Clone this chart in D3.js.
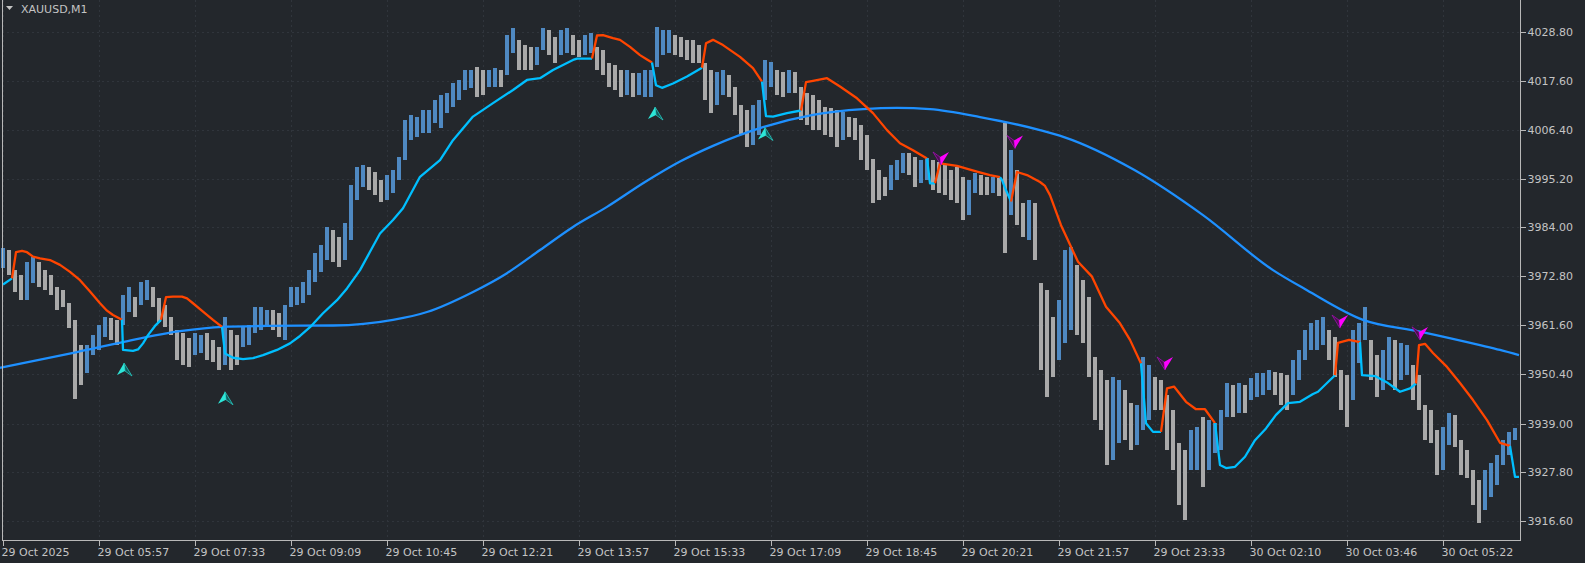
<!DOCTYPE html>
<html><head><meta charset="utf-8">
<script src="https://cdn.jsdelivr.net/npm/d3@7"></script>
<style>
html,body{margin:0;padding:0;background:#23272c;overflow:hidden}
svg{display:block}
text{font-family:"DejaVu Sans",sans-serif;font-size:11px;fill:#c4c4c4}
</style></head><body>
<svg id="c" width="1585" height="563"></svg>
<script>
// ---- DATA ----
const symbol = "XAUUSD,M1";
const colStep = 6; // minutes per aggregated column
const barHigh = [3979.3,3978.8,3974.2,3973.1,3976.1,3977.2,3976.1,3974.2,3973.1,3970.3,3969.6,3966.7,3962.8,3957.0,3957.0,3959.3,3961.6,3963.5,3963.2,3962.8,
3968.5,3970.3,3968.0,3971.5,3971.9,3970.3,3967.8,3966.2,3963.5,3960.5,3959.8,3958.6,3959.8,3959.3,3959.8,3958.2,3956.6,3963.5,3960.5,3959.3,
3961.1,3961.6,3965.7,3965.7,3965.1,3965.1,3964.4,3966.2,3970.3,3970.3,3971.5,3974.2,3978.1,3980.0,3984.1,3983.4,3981.8,3985.0,3993.7,3997.8,
3998.3,3997.8,3996.7,3994.9,3996.0,3997.2,4000.1,4008.6,4009.8,4009.3,4010.9,4010.9,4013.2,4014.4,4014.8,4017.1,4017.8,4020.1,4020.1,4020.8,
4020.1,4020.1,4020.5,4020.1,4028.1,4029.7,4027.0,4025.8,4025.4,4025.4,4029.7,4029.3,4027.7,4029.3,4029.7,4028.1,4027.0,4028.1,4028.6,4025.4,
4024.7,4021.7,4021.2,4020.1,4020.1,4019.4,4019.4,4020.1,4020.1,4029.9,4029.3,4029.3,4028.1,4027.7,4027.0,4027.0,4025.8,4021.7,4020.1,4019.6,
4020.1,4018.9,4016.2,4012.1,4010.9,4012.1,4013.2,4022.4,4021.9,4020.1,4019.6,4020.1,4019.6,4016.2,4014.8,4014.4,4013.2,4011.6,4011.4,4010.9,
4010.5,4009.3,4009.1,4007.5,4005.2,3999.7,3997.2,3995.6,3998.3,3999.5,4001.1,4001.1,4000.1,3999.5,3999.9,3999.5,3999.0,3998.3,3997.2,3997.8,
3995.6,3994.9,3996.5,3996.0,3995.6,3995.6,3995.3,4007.9,4001.8,3997.2,3989.6,3990.3,3989.6,3971.3,3969.6,3963.5,3967.4,3978.8,3979.5,3975.4,
3971.9,3968.0,3954.3,3951.3,3949.0,3949.7,3949.0,3946.7,3943.7,3943.3,3954.3,3952.4,3949.7,3949.0,3945.6,3942.1,3934.6,3932.9,3937.5,3938.2,
3940.5,3939.8,3939.1,3942.1,3948.3,3947.9,3948.3,3947.9,3949.5,3950.6,3950.6,3951.3,3950.8,3950.6,3950.1,3953.6,3955.9,3960.5,3962.1,3962.8,
3963.5,3960.5,3958.9,3951.3,3950.1,3960.5,3962.1,3965.7,3958.2,3954.7,3955.9,3958.9,3958.2,3957.5,3957.0,3952.4,3950.1,3943.3,3942.1,3937.5,
3938.2,3941.4,3941.0,3935.2,3932.9,3928.4,3926.1,3928.4,3930.0,3931.8,3935.2,3937.1,3938.0];
const barLow = [3974.7,3973.1,3969.2,3967.4,3967.4,3971.3,3970.3,3969.6,3968.5,3965.1,3965.7,3960.9,3944.6,3947.9,3950.6,3954.7,3955.9,3958.9,3958.2,3957.0,
3961.6,3964.6,3963.5,3966.2,3967.4,3965.7,3962.3,3961.1,3959.3,3953.6,3952.4,3952.0,3954.7,3955.2,3953.6,3953.1,3951.3,3952.4,3951.3,3952.4,
3956.6,3957.0,3959.8,3960.5,3961.1,3960.5,3958.9,3958.2,3965.7,3966.2,3966.7,3968.5,3971.5,3973.8,3976.5,3976.1,3974.9,3976.5,3981.1,3990.3,
3993.3,3992.6,3991.4,3989.8,3990.3,3991.9,3994.9,3999.5,4004.0,4004.7,4005.6,4005.6,4007.9,4006.8,4010.2,4011.6,4013.2,4015.5,4016.0,4013.9,
4014.4,4016.2,4016.2,4016.2,4018.9,4024.0,4020.1,4020.1,4020.1,4021.2,4024.7,4023.5,4021.7,4023.5,4024.0,4023.5,4023.1,4023.5,4024.0,4020.1,
4018.9,4016.2,4015.5,4013.9,4014.4,4013.9,4014.4,4013.9,4013.9,4020.8,4023.5,4024.0,4023.5,4023.1,4022.4,4021.7,4021.7,4013.2,4010.2,4012.1,
4014.4,4013.9,4009.8,4005.2,4002.4,4002.9,4005.2,4013.2,4016.2,4014.4,4013.9,4014.8,4014.8,4008.6,4007.5,4006.3,4006.3,4005.2,4004.7,4002.4,
4004.0,4004.7,4004.0,3999.5,3997.2,3989.6,3990.3,3991.1,3992.6,3994.9,3996.5,3996.0,3993.3,3994.2,3994.9,3992.6,3991.9,3991.4,3990.3,3989.6,
3985.7,3986.8,3991.9,3991.4,3991.4,3991.9,3991.1,3978.1,3986.8,3984.5,3981.8,3981.1,3976.5,3951.3,3945.1,3949.7,3953.6,3957.4,3960.5,3959.3,
3957.4,3949.7,3939.8,3937.5,3929.5,3930.6,3934.6,3935.2,3932.9,3934.1,3937.5,3939.8,3942.1,3942.1,3932.9,3928.4,3920.3,3916.9,3928.4,3928.4,
3924.5,3928.4,3932.2,3932.9,3940.5,3940.5,3941.4,3941.4,3944.4,3945.1,3945.6,3946.7,3945.6,3943.3,3942.1,3945.6,3949.0,3953.6,3955.9,3955.9,
3957.0,3953.6,3949.7,3942.1,3938.2,3944.4,3952.9,3958.2,3949.0,3945.1,3946.7,3949.0,3946.7,3949.0,3950.1,3944.4,3942.1,3935.2,3934.6,3927.2,
3928.4,3934.1,3933.6,3927.2,3926.5,3920.3,3916.2,3919.2,3922.2,3924.9,3929.5,3931.8,3935.2];

// long moving average (minute index, price)
const maX = [0,77,123,180,223,267,333,393,427,473,507,540,573,607,645,680,713,763,813,863,897,930,980,1040,1064,1134,1203,1273,1307,1363,1420,1480,1500,1519];
const maP = [3951.8,3955.4,3957.7,3960.2,3961.2,3961.4,3961.5,3962.8,3964.6,3969.2,3973.5,3978.8,3984.1,3988.7,3994.4,3999.1,4002.7,4007.0,4009.8,4011.1,4011.4,4011.1,4009.3,4006.3,4004.7,3997.2,3986.8,3974.2,3969.6,3962.8,3960.1,3957.0,3955.9,3954.7];

// trailing stop line: minute index, price, direction (1 up / -1 down)
const trailX = [3,12, 16,22,27,33,40,50,60,70,80,90,100,107,113,122, 123,133,138,143,148,155,161, 166,173,182,187,193,203,213,222,
225,233,243,253,263,277,290,300,310,323,337,347,360,370,380,393,403,420,440,453,473,493,513,527,540,553,573,577,592,
597,603,613,620,630,640,647,652, 656,662,673,687,702, 706,713,723,740,753,762, 766,773,787,801,
806,813,827,840,857,873,887,900,913,927, 930,935, 940,957,977,990,1000, 1002,1006,1011,
1017,1027,1040,1045,1050,1061,1078,1092,1106,1120,1130,1141, 1146,1153,1161, 1167,1174,1186,1196,1205,1215,
1220,1226,1235,1245,1255,1266,1276,1288,1300,1313,1318,1335, 1338,1349,1360, 1362,1375,1388,1400,1410,1416,
1419,1425,1433,1447,1460,1473,1487,1500,1510, 1515,1519];
const trailP = [3970.9,3972.3, 3978.3,3978.6,3978.3,3977.3,3976.9,3976.5,3975.4,3973.8,3971.9,3969.3,3966.6,3964.9,3963.9,3962.8,
3955.9,3955.7,3956.0,3957.4,3959.3,3961.4,3962.8, 3968.0,3968.1,3968.1,3967.7,3966.6,3964.7,3962.8,3961.2,
3955.1,3954.1,3953.8,3954.0,3954.7,3955.9,3957.4,3959.1,3961.1,3964.3,3967.3,3970.0,3974.2,3978.4,3982.6,3985.7,3988.4,3995.6,3999.4,4004.0,4009.4,4012.5,4015.5,4017.8,4018.2,4020.1,4022.4,4022.7,4022.7,
4028.0,4028.1,4027.4,4027.0,4025.4,4023.5,4022.5,4021.8, 4016.6,4016.0,4017.0,4018.6,4020.6, 4026.2,4027.0,4025.8,4023.1,4020.5,4017.4,
4009.5,4009.4,4010.2,4010.8, 4017.3,4017.6,4018.2,4016.3,4013.6,4010.2,4006.3,4003.3,4001.7,3999.8, 3994.1,3994.1,
3998.7,3998.1,3996.8,3996.0,3995.5, 3994.9,3992.5,3989.9,
3996.7,3996.0,3994.4,3993.5,3991.4,3984.5,3976.1,3972.7,3965.8,3962.0,3958.2,3952.8, 3939.1,3937.1,3937.1,
3947.1,3947.5,3944.0,3942.3,3942.3,3939.1, 3929.5,3928.8,3929.1,3931.4,3935.2,3937.9,3941.0,3943.7,3944.0,3945.8,3946.3,3950.1,
3957.5,3958.2,3957.7, 3950.1,3949.9,3948.3,3946.3,3947.1,3948.2,
3957.0,3957.3,3955.2,3952.0,3948.3,3944.4,3939.8,3934.6,3933.9, 3926.8,3926.8];
const trailDir = [1,1, -1,-1,-1,-1,-1,-1,-1,-1,-1,-1,-1,-1,-1,-1, 1,1,1,1,1,1,1, -1,-1,-1,-1,-1,-1,-1,-1,
1,1,1,1,1,1,1,1,1,1,1,1,1,1,1,1,1,1,1,1,1,1,1,1,1,1,1,1,1,
-1,-1,-1,-1,-1,-1,-1,-1, 1,1,1,1,1, -1,-1,-1,-1,-1,-1, 1,1,1,1,
-1,-1,-1,-1,-1,-1,-1,-1,-1,-1, 1,1, -1,-1,-1,-1,-1, 1,1,1,
-1,-1,-1,-1,-1,-1,-1,-1,-1,-1,-1,-1, 1,1,1, -1,-1,-1,-1,-1,-1,
1,1,1,1,1,1,1,1,1,1,1,1, -1,-1,-1, 1,1,1,1,1,1,
-1,-1,-1,-1,-1,-1,-1,-1,-1, 1,1];

// signal arrows (minute index, price at tip)
const buyX = [124,225,655,765];
const buyP = [3952.9,3946.3,4011.6,4006.9];
const sellX = [941,1015,1165,1340,1420];
const sellP = [3998.3,4002.1,3951.3,3960.9,3958.2];

// axes
const priceTicks = [4028.80,4017.60,4006.40,3995.20,3984.00,3972.80,3961.60,3950.40,3939.00,3927.80,3916.60];
const timeTickX = [3,99,195,291,387,483,579,675,771,867,963,1059,1155,1251,1347,1443];
const timeLabels = ["29 Oct 2025","29 Oct 05:57","29 Oct 07:33","29 Oct 09:09","29 Oct 10:45","29 Oct 12:21","29 Oct 13:57","29 Oct 15:33","29 Oct 17:09","29 Oct 18:45","29 Oct 20:21","29 Oct 21:57","29 Oct 23:33","30 Oct 02:10","30 Oct 03:46","30 Oct 05:22"];

// ---- DRAW ----
const W = 1585, H = 563;
const plotL = 2, plotR = 1520, plotB = 540;
const svg = d3.select("#c");
svg.append("rect").attr("width",W).attr("height",H).attr("fill","#23272c");

const x = d3.scaleLinear().domain([0,1520]).range([0,1520]);
const y = d3.scaleLinear().domain([3916.6,4028.8]).range([521.3,32]);

// grid
const grid = svg.append("g").attr("stroke","#30353c").attr("stroke-dasharray","2,3").attr("shape-rendering","crispEdges");
priceTicks.forEach(p=>grid.append("line").attr("x1",plotL).attr("x2",plotR).attr("y1",Math.round(y(p))+0.5).attr("y2",Math.round(y(p))+0.5));
timeTickX.forEach(t=>grid.append("line").attr("y1",0).attr("y2",plotB).attr("x1",Math.round(x(t))+0.5).attr("x2",Math.round(x(t))+0.5));

// bars
const bars = barHigh.map((h,i)=>({i, h, l: barLow[i]}));
const mid = d => (d.h + d.l)/2;
svg.append("g").attr("shape-rendering","crispEdges").selectAll("rect").data(bars).join("rect")
  .attr("x", d=>x(d.i*colStep)+1)
  .attr("width", colStep-2)
  .attr("y", d=>y(d.h))
  .attr("height", d=>Math.max(1, y(d.l)-y(d.h)))
  .attr("fill", d=> (d.i===0 || mid(d) >= mid(bars[d.i-1])) ? "#4f89c2" : "#a9a9a9");

// moving average
const maData = maX.map((t,i)=>[t, maP[i]]);
svg.append("path").datum(maData)
  .attr("d", d3.line().x(d=>x(d[0])).y(d=>y(d[1])).curve(d3.curveMonotoneX))
  .attr("fill","none").attr("stroke","#1e90ff").attr("stroke-width",2.3);

// trailing line segments
const trail = trailX.map((t,i)=>({t, p: trailP[i], d: trailDir[i]}));
const segs = [];
trail.forEach((pt,i)=>{
  if (i===0 || pt.d !== trail[i-1].d) {
    const s = {d: pt.d, pts: []};
    if (i>0) s.pts.push(trail[i-1]);
    segs.push(s);
  }
  segs[segs.length-1].pts.push(pt);
});
const tLine = d3.line().x(d=>x(d.t)).y(d=>y(d.p)).curve(d3.curveLinear);
svg.append("g").selectAll("path").data(segs).join("path")
  .attr("d", s=>tLine(s.pts))
  .attr("fill","none")
  .attr("stroke", s=> s.d>0 ? "#00bfff" : "#ff4500")
  .attr("stroke-width",2.3).attr("stroke-linejoin","round");

// arrows
const ag = svg.append("g");
buyX.forEach((t,i)=>{
  const g = ag.append("g").attr("transform",`translate(${x(t)},${y(buyP[i])})`);
  g.append("path").attr("d","M0,0 L8,13 L1,8 Z").attr("fill","#0f5a5c").attr("stroke","#27c9c0").attr("stroke-width",0.8);
  g.append("path").attr("d","M0,0 L-7,12 L1,8 Z").attr("fill","#2de6d8");
});
sellX.forEach((t,i)=>{
  const g = ag.append("g").attr("transform",`translate(${x(t)},${y(sellP[i])})`);
  g.append("path").attr("d","M0,0 L-8,-13 L-1,-8 Z").attr("fill","#4a1050").attr("stroke","#a010b0").attr("stroke-width",0.8);
  g.append("path").attr("d","M0,0 L8,-13 L-1,-8 Z").attr("fill","#ff00ff");
});

// frame
const frame = svg.append("g").attr("stroke","#b8b8b8").attr("shape-rendering","crispEdges");
frame.append("line").attr("x1",plotL+0.5).attr("x2",plotL+0.5).attr("y1",0).attr("y2",plotB+0.5);
frame.append("line").attr("x1",plotL).attr("x2",plotR+0.5).attr("y1",plotB+0.5).attr("y2",plotB+0.5);
frame.append("line").attr("x1",plotR+0.5).attr("x2",plotR+0.5).attr("y1",0).attr("y2",plotB+0.5);

// right axis
const ya = svg.append("g").attr("transform",`translate(${plotR+0.5},0)`)
  .call(d3.axisRight(y).tickValues(priceTicks).tickFormat(d=>d.toFixed(2)).tickSize(5).tickPadding(2));
ya.select(".domain").remove();
ya.selectAll("line").attr("stroke","#b8b8b8").attr("shape-rendering","crispEdges");
ya.selectAll("text").attr("fill","#c4c4c4").style("font-family","DejaVu Sans").style("font-size","11px");

// bottom axis
const xa = svg.append("g").attr("transform",`translate(0,${plotB+0.5})`)
  .call(d3.axisBottom(x).tickValues(timeTickX).tickFormat((d,i)=>timeLabels[i]).tickSize(5).tickPadding(3));
xa.select(".domain").remove();
xa.selectAll("line").attr("stroke","#b8b8b8").attr("shape-rendering","crispEdges");
xa.selectAll("text").attr("fill","#c4c4c4").attr("text-anchor","start").attr("dx","-2")
  .style("font-family","DejaVu Sans").style("font-size","11px");

// title
svg.append("path").attr("d","M6,6 L13,6 L9.5,10 Z").attr("fill","#c4c4c4");
svg.append("text").attr("x",21).attr("y",13).text(symbol);
</script>
</body></html>
